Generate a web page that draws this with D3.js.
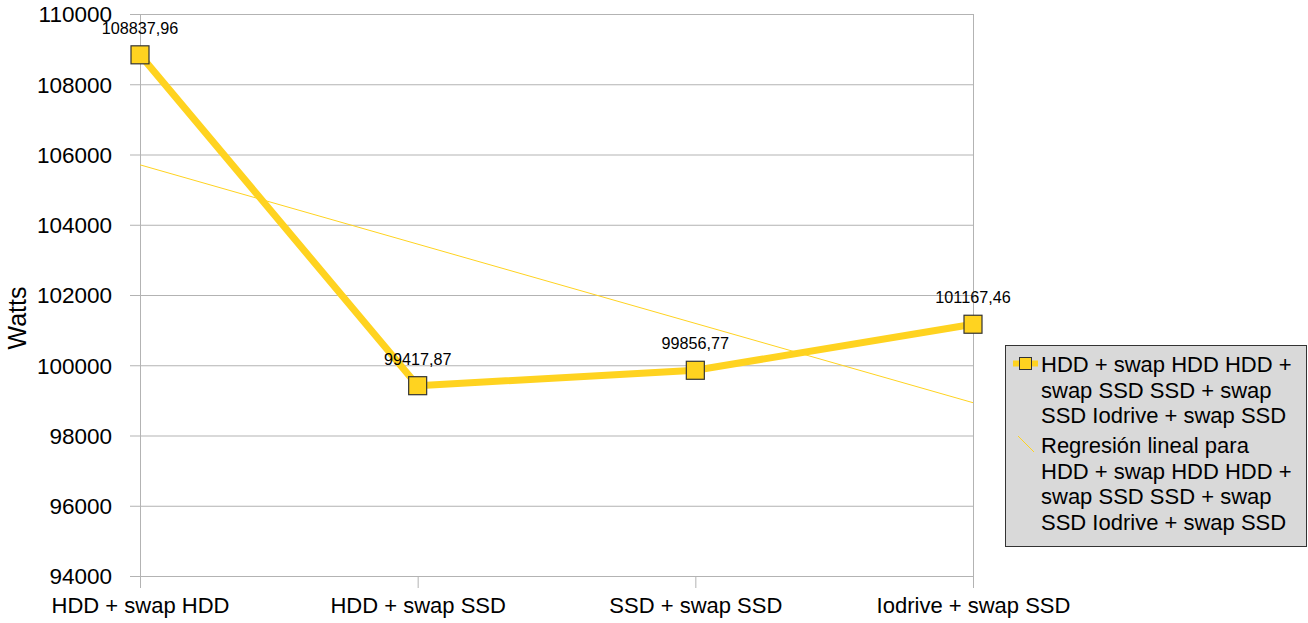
<!DOCTYPE html>
<html>
<head>
<meta charset="utf-8">
<script src="https://cdn.jsdelivr.net/npm/d3@7"></script>
<style>
  html, body { margin: 0; padding: 0; background: #fff; }
  svg { display: block; font-family: "Liberation Sans", Arial, sans-serif; }
</style>
</head>
<body>
<svg id="chart" width="1308" height="623"></svg>
<script>
// Power draw per storage configuration
const categories = ["HDD + swap HDD", "HDD + swap SSD", "SSD + swap SSD", "Iodrive + swap SSD"];
const watts = [108837.96, 99417.87, 99856.77, 101167.46];
const valueLabels = ["108837,96", "99417,87", "99856,77", "101167,46"];
const yTicks = [94000, 96000, 98000, 100000, 102000, 104000, 106000, 108000, 110000];
const seriesName = ["HDD + swap HDD HDD +", "swap SSD SSD + swap", "SSD Iodrive + swap SSD"];
const trendName = ["Regresión lineal para", "HDD + swap HDD HDD +", "swap SSD SSD + swap", "SSD Iodrive + swap SSD"];

const yellow = "#ffd320";
const gridColor = "#b3b3b3";

const svg = d3.select("#chart");
const plot = { left: 140, right: 973, top: 14, bottom: 576 };

const x = d3.scalePoint().domain(categories).range([plot.left, plot.right]).padding(0);
const y = d3.scaleLinear().domain([94000, 110000]).range([plot.bottom, plot.top]);

// Horizontal grid lines with outer tick stubs
const yAxis = d3.axisLeft(y).tickValues(yTicks).tickFormat(d3.format("d"))
  .tickSize(-(plot.right - plot.left)).tickSizeOuter(0).tickPadding(28);
const gy = svg.append("g").attr("transform", `translate(${plot.left},0)`).call(yAxis);
gy.select(".domain").remove();
gy.selectAll(".tick line").attr("stroke", gridColor).attr("x1", -10);
gy.selectAll(".tick text").attr("font-size", 22.5).attr("fill", "#000")
  .attr("font-family", "Liberation Sans, Arial, sans-serif").attr("dy", "0.35em");

// Category axis ticks
const xAxis = d3.axisBottom(x).tickSize(12).tickSizeOuter(0).tickPadding(8);
const gx = svg.append("g").attr("transform", `translate(0,${plot.bottom})`).call(xAxis);
gx.select(".domain").remove();
gx.selectAll(".tick line").attr("stroke", gridColor);
gx.selectAll(".tick text").attr("font-size", 22).attr("fill", "#000")
  .attr("font-family", "Liberation Sans, Arial, sans-serif").attr("dy", "0.78em");

// Plot frame: left and right vertical lines
svg.append("line").attr("x1", plot.left + 0.5).attr("x2", plot.left + 0.5)
  .attr("y1", plot.top).attr("y2", plot.bottom).attr("stroke", gridColor);
svg.append("line").attr("x1", plot.right + 0.5).attr("x2", plot.right + 0.5)
  .attr("y1", plot.top).attr("y2", plot.bottom).attr("stroke", gridColor);

// Axis title
svg.append("text").attr("transform", "translate(26,318) rotate(-90)")
  .attr("text-anchor", "middle").attr("font-size", 25).text("Watts");

// Least-squares trend line over the category index
const n = watts.length;
const xs = d3.range(n);
const mx = d3.mean(xs), my = d3.mean(watts);
const slope = d3.sum(xs, i => (i - mx) * (watts[i] - my)) / d3.sum(xs, i => (i - mx) ** 2);
const intercept = my - slope * mx;
svg.append("line")
  .attr("x1", x(categories[0])).attr("y1", y(intercept))
  .attr("x2", x(categories[n - 1])).attr("y2", y(intercept + slope * (n - 1)))
  .attr("stroke", yellow).attr("stroke-width", 1);

// Series line
const line = d3.line().x((d, i) => x(categories[i])).y(d => y(d));
svg.append("path").datum(watts).attr("d", line)
  .attr("fill", "none").attr("stroke", yellow).attr("stroke-width", 7)
  .attr("stroke-linejoin", "round");

// Markers
const m = 18;
svg.selectAll("rect.marker").data(watts).enter().append("rect")
  .attr("class", "marker")
  .attr("x", (d, i) => x(categories[i]) - m / 2)
  .attr("y", d => y(d) - m / 2)
  .attr("width", m).attr("height", m)
  .attr("fill", yellow).attr("stroke", "#333").attr("stroke-width", 1.2);

// Value labels
svg.selectAll("text.val").data(watts).enter().append("text")
  .attr("class", "val")
  .attr("x", (d, i) => x(categories[i]))
  .attr("y", d => y(d) - 21)
  .attr("text-anchor", "middle").attr("font-size", 16.2)
  .text((d, i) => valueLabels[i]);

// Legend
const lg = svg.append("g").attr("transform", "translate(1005,345)");
lg.append("rect").attr("x", 0.5).attr("y", 0.5).attr("width", 301).attr("height", 201)
  .attr("fill", "#d9d9d9").attr("stroke", "#333").attr("stroke-width", 1);
lg.append("line").attr("x1", 8).attr("x2", 33).attr("y1", 18.5).attr("y2", 18.5)
  .attr("stroke", yellow).attr("stroke-width", 6);
lg.append("rect").attr("x", 14.5).attr("y", 12.5).attr("width", 12).attr("height", 12)
  .attr("fill", yellow).attr("stroke", "#333").attr("stroke-width", 1);
lg.append("line").attr("x1", 13).attr("x2", 29).attr("y1", 91).attr("y2", 107)
  .attr("stroke", yellow).attr("stroke-width", 1);

const lh = 25.5;
lg.append("text").attr("x", 36).attr("y", 27).attr("font-size", 22)
  .selectAll("tspan").data(seriesName).enter().append("tspan")
  .attr("x", 36).attr("dy", (d, i) => i === 0 ? 0 : lh).text(d => d);
lg.append("text").attr("x", 36).attr("y", 108).attr("font-size", 22)
  .selectAll("tspan").data(trendName).enter().append("tspan")
  .attr("x", 36).attr("dy", (d, i) => i === 0 ? 0 : lh).text(d => d);
</script>
</body>
</html>
